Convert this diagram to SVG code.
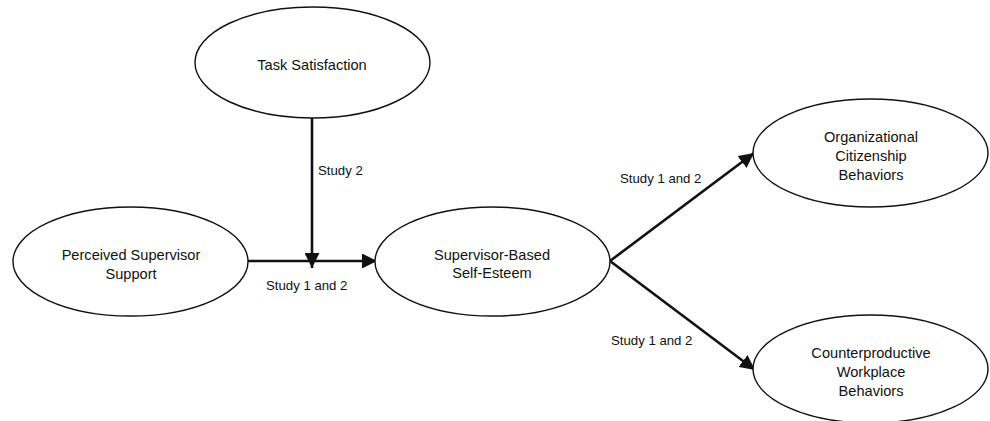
<svg xmlns="http://www.w3.org/2000/svg" width="990" height="421" viewBox="0 0 990 421">
<style>
.n{fill:#fff;stroke:#111;stroke-width:1.4}
.t{font-family:"Liberation Sans",Arial,sans-serif;font-size:14.6px;fill:#111;text-anchor:middle}
.l{font-family:"Liberation Sans",Arial,sans-serif;font-size:13.2px;fill:#111}
.c{stroke:#111;stroke-width:2.6;fill:none}
</style>
<defs>
<marker id="ah" viewBox="0 0 10 10" refX="10" refY="5" markerWidth="15" markerHeight="15" markerUnits="userSpaceOnUse" orient="auto">
<path d="M0,0 L10,5 L0,10 Z" fill="#111"/>
</marker>
</defs>
<rect width="990" height="421" fill="#fff"/>
<g id="connectors">
<line class="c" x1="248" y1="261" x2="377" y2="261" marker-end="url(#ah)"/>
<line class="c" x1="312" y1="118" x2="312" y2="268" marker-end="url(#ah)"/>
<line class="c" x1="610" y1="261" x2="754" y2="153" marker-end="url(#ah)"/>
<line class="c" x1="610" y1="261" x2="755" y2="370" marker-end="url(#ah)"/>
<text class="l" x="318" y="175">Study 2</text>
<text class="l" x="266" y="290">Study 1 and 2</text>
<text class="l" x="620" y="183">Study 1 and 2</text>
<text class="l" x="611" y="345">Study 1 and 2</text>
</g>
<g id="task-satisfaction">
<ellipse class="n" cx="312.5" cy="62.5" rx="117.5" ry="55.5"/>
<text class="t" x="312" y="70">Task Satisfaction</text>
</g>
<g id="perceived-supervisor-support">
<ellipse class="n" cx="130.5" cy="261.5" rx="117.5" ry="54.5"/>
<text class="t" x="131" y="260">Perceived Supervisor</text>
<text class="t" x="131" y="279">Support</text>
</g>
<g id="supervisor-based-self-esteem">
<ellipse class="n" cx="492.5" cy="261.5" rx="117.5" ry="54.5"/>
<text class="t" x="492" y="260">Supervisor-Based</text>
<text class="t" x="492" y="278">Self-Esteem</text>
</g>
<g id="organizational-citizenship-behaviors">
<ellipse class="n" cx="870.5" cy="153" rx="117.5" ry="54"/>
<text class="t" x="871" y="142">Organizational</text>
<text class="t" x="871" y="161">Citizenship</text>
<text class="t" x="871" y="180">Behaviors</text>
</g>
<g id="counterproductive-workplace-behaviors">
<ellipse class="n" cx="870.5" cy="369" rx="117.5" ry="54"/>
<text class="t" x="871" y="358">Counterproductive</text>
<text class="t" x="871" y="377">Workplace</text>
<text class="t" x="871" y="396">Behaviors</text>
</g>
</svg>
